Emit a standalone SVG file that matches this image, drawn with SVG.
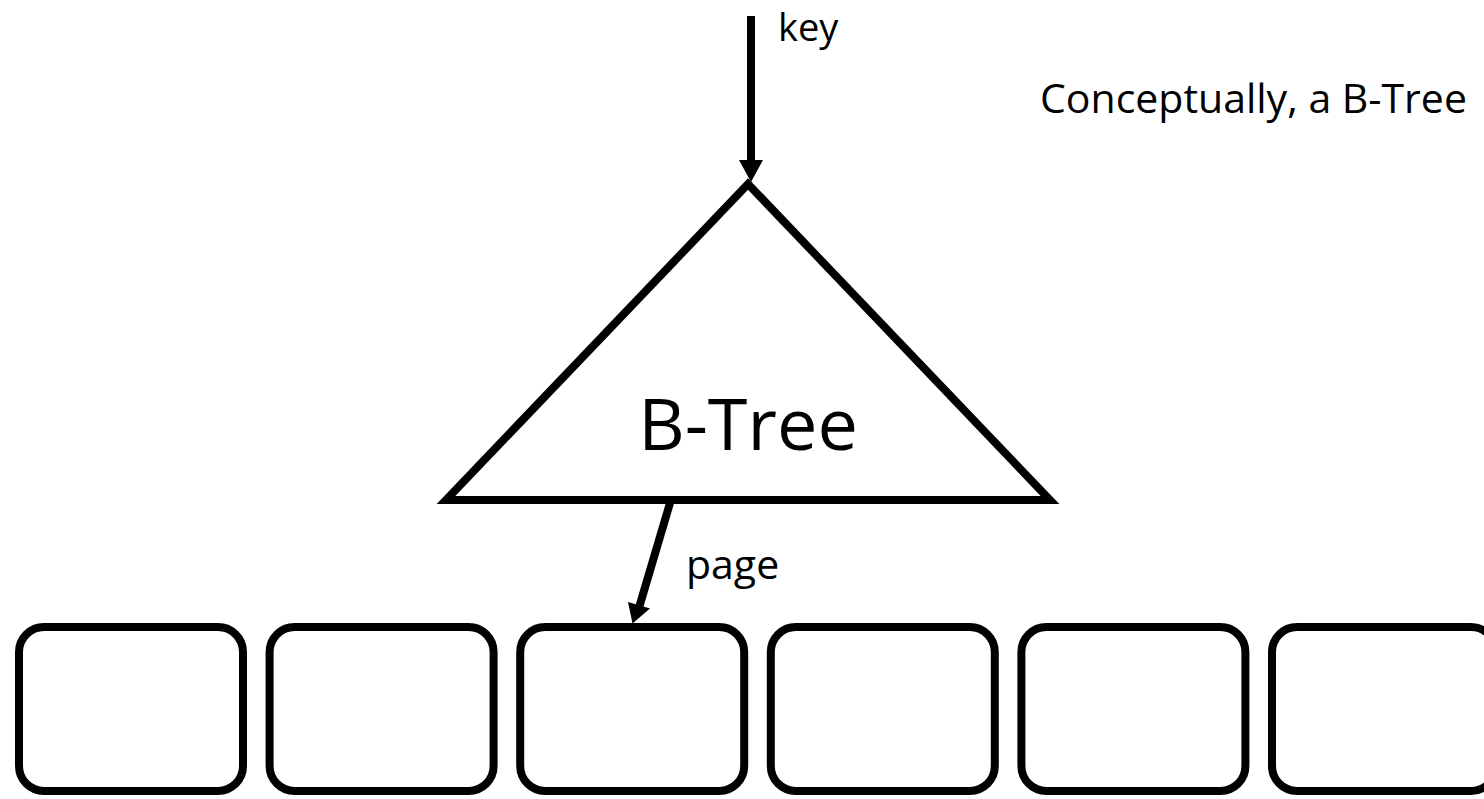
<svg xmlns="http://www.w3.org/2000/svg" width="1484" height="799" viewBox="0 0 1484 799">
<style>
.page{fill:#fff;stroke:#000;stroke-width:8}
.tri{fill:#fff;stroke:#000;stroke-width:8;stroke-linejoin:miter;stroke-miterlimit:10}
.conn{stroke:#000;stroke-width:8;fill:none}
.head{fill:#000;stroke:none}
text{font-family:"Open Sans","Liberation Sans",sans-serif;fill:#000}
</style>
<rect width="1484" height="799" fill="#fff"/>
<g id="tree">
<polygon class="tri" points="748,184 1050,500 446,500"/>
<text x="748" y="450" font-size="72" text-anchor="middle">B-Tree</text>
</g>
<g id="pages">
<rect id="page1" class="page" x="19" y="627" width="224" height="164" rx="25"/>
<rect id="page2" class="page" x="269.6" y="627" width="224" height="164" rx="25"/>
<rect id="page3" class="page" x="520.2" y="627" width="224" height="164" rx="25"/>
<rect id="page4" class="page" x="770.8" y="627" width="224" height="164" rx="25"/>
<rect id="page5" class="page" x="1021.4" y="627" width="224" height="164" rx="25"/>
<rect id="page6" class="page" x="1272" y="627" width="224" height="164" rx="25"/>
</g>
<g id="note">
<text x="1040" y="113" font-size="41">Conceptually, a B-Tree</text>
</g>
<g id="connectors">
<g id="key-arrow">
<line class="conn" x1="751" y1="16" x2="751" y2="164"/>
<polygon class="head" points="739,160 763,160 751,182"/>
<text x="778" y="41" font-size="38">key</text>
</g>
<g id="page-arrow">
<line class="conn" x1="670" y1="503" x2="639.5" y2="606"/>
<polygon class="head" points="628,602 650,608.5 632.5,623.5"/>
<text x="686" y="579" font-size="41">page</text>
</g>
</g>
</svg>
